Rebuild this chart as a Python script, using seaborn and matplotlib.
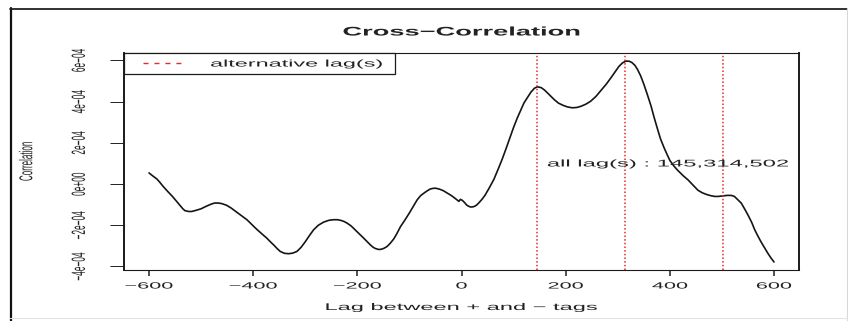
import numpy as np
import pandas as pd
import matplotlib
matplotlib.use("Agg")
import matplotlib.pyplot as plt
import seaborn as sns
from matplotlib.lines import Line2D
from matplotlib.legend_handler import HandlerLine2D
from matplotlib.patheffects import AbstractPathEffect
from matplotlib.path import Path
from matplotlib.transforms import Affine2D

# ---- data -------------------------------------------------------------
lags = [-600, -592, -585, -579, -573, -564, -555, -547, -540, -535, -531, -524,
        -518, -509, -500, -492, -485, -479, -474, -467, -460, -451, -443, -435,
        -424, -412, -404, -395, -384, -374, -367, -360, -354, -348, -340, -332,
        -324, -316, -308, -300, -292, -284, -275, -265, -255, -246, -238, -232,
        -226, -220, -212, -205, -196, -188, -181, -175, -170, -166, -160, -155,
        -149, -143, -137, -130, -124, -117, -108, -100, -92, -85, -78, -70,
        -64, -60, -55, -50, -43, -35, -28, -20, -14, -8, -5, -2, 2, 6, 10, 14,
        17, 21, 25, 29, 33, 39, 45, 53, 62, 70, 78, 86, 94, 100, 107, 114, 120,
        127, 133, 140, 146, 153, 160, 170, 178, 186, 195, 204, 213, 222, 230,
        239, 248, 258, 268, 278, 287, 295, 302, 309, 316, 322, 327, 333, 338,
        344, 350, 357, 364, 370, 376, 382, 389, 395, 400, 407, 415, 425, 435,
        445, 454, 462, 470, 478, 486, 493, 500, 510, 518, 524, 530, 537, 543,
        550, 557, 563, 569, 575, 582, 588, 594, 600]
corr_e4 = [0.54, 0.38, 0.25, 0.08, -0.11, -0.36, -0.60, -0.84, -1.05, -1.20,
           -1.29, -1.33, -1.33, -1.27, -1.20, -1.10, -1.02, -0.96, -0.92, -0.92,
           -0.95, -1.03, -1.15, -1.30, -1.50, -1.73, -1.93, -2.15, -2.40, -2.62,
           -2.80, -2.97, -3.13, -3.27, -3.36, -3.38, -3.35, -3.27, -3.07, -2.80,
           -2.50, -2.22, -2.00, -1.85, -1.76, -1.73, -1.73, -1.76, -1.81, -1.89,
           -2.03, -2.20, -2.42, -2.62, -2.80, -2.95, -3.06, -3.12, -3.17, -3.17,
           -3.12, -3.03, -2.88, -2.66, -2.40, -2.06, -1.72, -1.40, -1.06, -0.76,
           -0.55, -0.40, -0.30, -0.24, -0.21, -0.20, -0.24, -0.32, -0.43, -0.55,
           -0.66, -0.78, -0.84, -0.74, -0.80, -0.90, -1.02, -1.08, -1.11, -1.11,
           -1.08, -1.02, -0.92, -0.75, -0.55, -0.20, 0.22, 0.70, 1.20, 1.75,
           2.32, 2.75, 3.20, 3.60, 3.94, 4.22, 4.45, 4.65, 4.72, 4.68, 4.55,
           4.30, 4.10, 3.93, 3.82, 3.74, 3.70, 3.72, 3.78, 3.88, 4.02, 4.25,
           4.55, 4.85, 5.16, 5.45, 5.70, 5.88, 5.97, 5.96, 5.90, 5.76, 5.56,
           5.25, 4.85, 4.33, 3.78, 3.22, 2.70, 2.20, 1.76, 1.42, 1.15, 0.90,
           0.67, 0.42, 0.20, -0.06, -0.30, -0.42, -0.50, -0.56, -0.60, -0.60,
           -0.58, -0.55, -0.55, -0.60, -0.75, -0.92, -1.18, -1.50, -1.85, -2.22,
           -2.52, -2.80, -3.10, -3.35, -3.58, -3.78]
alt_lags = [145, 314, 502]
xticks = [-600, -400, -200, 0, 200, 400, 600]
yticks = [-4e-4, -2e-4, 0.0, 2e-4, 4e-4, 6e-4]
ytick_labels = ["\u22124e\u221204", "\u22122e\u221204", "0e+00",
                "2e\u221204", "4e\u221204", "6e\u221204"]
title_text = "Cross\u2212Correlation"
xlabel_text = "Lag between + and \u2212 tags"
ylabel_text = "Correlation"
legend_text = "alternative lag(s)"
note_lag, note_corr = 396, 1.0e-4

df = pd.DataFrame({"lag": lags, "corr": np.array(corr_e4) * 1e-4})
note_text = "all lag(s) : " + ",".join(str(v) for v in alt_lags)


class Stretch(AbstractPathEffect):
    """Draw glyphs widened by (sx, sy) in the text's own frame."""

    def __init__(self, sx=1.0, sy=1.0, anchor="center"):
        super().__init__()
        self.sx, self.sy, self.anchor = sx, sy, anchor

    def draw_path(self, renderer, gc, tpath, affine, rgbFace=None):
        v = tpath.vertices
        if tpath.codes is not None:
            v = v[tpath.codes != Path.CLOSEPOLY]
        cx = cy = 0.0
        if len(v):
            cy = 0.5 * (v[:, 1].min() + v[:, 1].max())
            if self.anchor == "center":
                cx = 0.5 * (v[:, 0].min() + v[:, 0].max())
        st = Affine2D().translate(-cx, -cy).scale(self.sx, self.sy).translate(cx, cy)
        renderer.draw_path(gc, tpath, st + affine, rgbFace)


sns.set_theme(style="white")
plt.rcParams["font.family"] = ["Liberation Sans", "DejaVu Sans"]

W, H = 848, 321
fig = plt.figure(figsize=(W / 100, H / 100), dpi=100, facecolor="white")
ax = fig.add_axes([124 / W, 1 - 270 / H, (799 - 124) / W, (270 - 53) / H])
ax.set_facecolor("white")

sns.lineplot(data=df, x="lag", y="corr", ax=ax, color="#151515",
             linewidth=1.2, estimator=None)

red = "#e62a2a"
for lag in alt_lags:
    ax.axvline(lag, color=red, linewidth=1.1, linestyle=(0, (1.0, 1.4)))

# R-style 4% padding on both axes
xr = max(lags) - min(lags)
ax.set_xlim(min(lags) - 0.04 * xr, max(lags) + 0.04 * xr)
yv = df["corr"]
yr = yv.max() - yv.min()
ax.set_ylim(yv.min() - 0.04 * yr, yv.max() + 0.04 * yr)

ax.set_xticks(xticks)
ax.set_yticks(yticks, labels=ytick_labels)
ax.tick_params(axis="x", direction="out", length=4, width=1.1, color="#222222",
               labelsize=6.5, pad=4.3, labelcolor="#222222", bottom=True)
ax.tick_params(axis="y", direction="out", length=10, width=0.7, color="#222222",
               labelsize=6, pad=19.4, labelcolor="#222222", left=True,
               labelrotation=90)
for lbl in ax.get_yticklabels():
    lbl.set_va("center")

for side, lw in (("left", 1.4), ("right", 1.4), ("top", 0.8), ("bottom", 0.8)):
    ax.spines[side].set_color("#1a1a1a")
    ax.spines[side].set_linewidth(lw)
    ax.spines[side].set_visible(True)

ax.set_xlabel(xlabel_text, fontsize=7, color="#222222")
ax.xaxis.set_label_coords(0.5, (270 - 307) / 217)
ax.xaxis.label.set_va("center")
ax.set_ylabel(ylabel_text, fontsize=5.8, color="#222222")
ax.yaxis.set_label_coords((27 - 124) / 675, 0.5)
ax.yaxis.label.set_va("center")

ax.set_title(title_text, fontsize=9, fontweight="bold", color="#222222",
             y=(270 - 35.5) / 217, pad=0)

note = ax.text(note_lag, note_corr, note_text, ha="center", va="center",
               fontsize=7, color="#222222")

proxy = Line2D([], [], color=red, linewidth=1.0, linestyle=(0, (3.6, 4.3)))
leg = ax.legend([proxy], [legend_text], loc="upper left",
                bbox_to_anchor=(0, 1 - 20.3 / 217, (395 - 124) / 675, 20.3 / 217),
                mode="expand", borderaxespad=0, borderpad=0.57,
                handlelength=5.5, handletextpad=2.78, fontsize=7,
                fancybox=False, framealpha=1, edgecolor="#1a1a1a",
                handler_map={Line2D: HandlerLine2D(xpad=1.39)})
leg.get_frame().set_linewidth(0.9)

# widen the lettering horizontally
for t in ax.get_xticklabels():
    t.set_path_effects([Stretch(sx=2.4)])
for t in ax.get_yticklabels():
    t.set_path_effects([Stretch(sy=2.3)])
ax.xaxis.label.set_path_effects([Stretch(sx=2.43)])
ax.yaxis.label.set_path_effects([Stretch(sy=2.3)])
ax.title.set_path_effects([Stretch(sx=2.18)])
note.set_path_effects([Stretch(sx=2.45)])
for t in leg.get_texts():
    t.set_path_effects([Stretch(sx=2.41, anchor="left")])
    t.set_color("#222222")

# page frame
fig.add_artist(Line2D([10.5 / W, 10.5 / W], [0, 1 - 8 / H], color="#111111",
                      linewidth=1.6, transform=fig.transFigure))
fig.add_artist(Line2D([10 / W, 1], [1 - 8.5 / H, 1 - 8.5 / H], color="#222222",
                      linewidth=1.3, transform=fig.transFigure))
fig.add_artist(Line2D([846.5 / W, 846.5 / W], [0, 1 - 8 / H], color="#d8d8d8",
                      linewidth=0.8, transform=fig.transFigure))
fig.add_artist(Line2D([10 / W, 1], [3.5 / H, 3.5 / H], color="#e4e4e4",
                      linewidth=0.8, transform=fig.transFigure))

fig.savefig("out.png", dpi=100, facecolor="white")
